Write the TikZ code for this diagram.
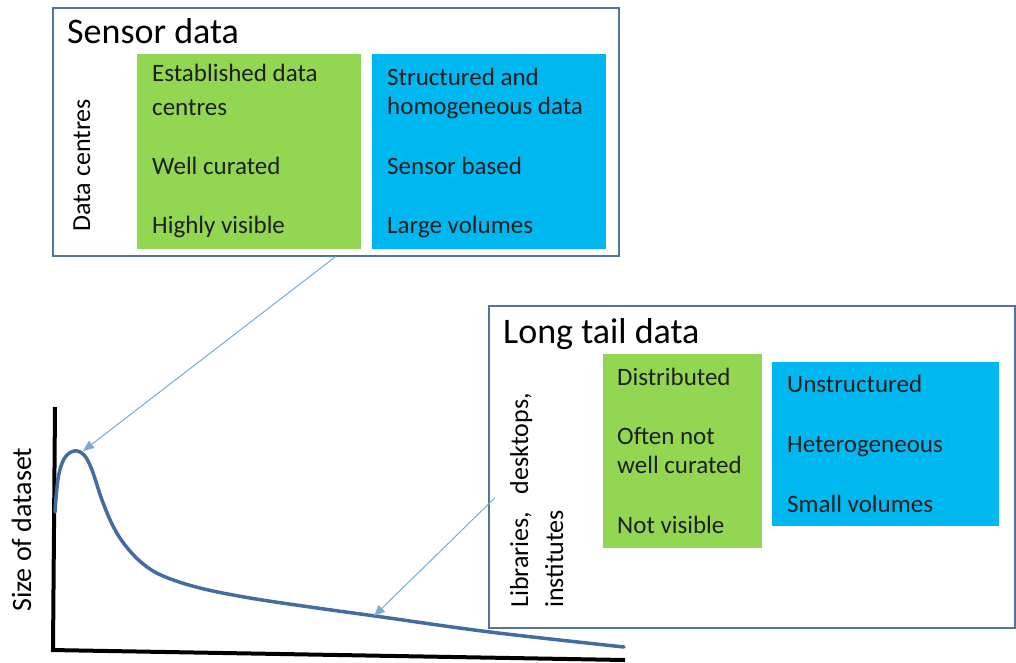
\documentclass[tikz,border=0pt]{standalone}
\usepackage{fontspec}
\setmainfont{Carlito}
\usetikzlibrary{arrows.meta}

\definecolor{frameblue}{RGB}{84,116,160}
\definecolor{cellgreen}{RGB}{146,214,82}
\definecolor{cellblue}{RGB}{0,184,240}
\definecolor{pointerblue}{RGB}{120,170,220}
\definecolor{curveblue}{RGB}{68,108,158}

\tikzset{
  framebox/.style={draw=frameblue, line width=1.5pt, anchor=north west, inner sep=0pt},
  cell/.style={anchor=north west, inner sep=0pt},
  title/.style={anchor=base west, inner sep=0pt, font=\fontsize{36}{43}\selectfont},
  item/.style={anchor=base west, inner sep=0pt, text=black!88, font=\fontsize{25}{30}\selectfont},
  rotlabel/.style={rotate=90, anchor=base west, inner sep=0pt, font=\fontsize{26}{31}\selectfont},
  pointer/.style={draw=pointerblue, line width=1pt, -{Triangle[length=11pt,width=9pt]}},
  axis/.style={line width=4pt, black},
  curve/.style={line width=3.5pt, curveblue, line cap=round},
}

\begin{document}
\begin{tikzpicture}[x=1pt, y=-1pt]
	\useasboundingbox (0,0) rectangle (1016,662);

	% Sensor data panel
	\node[framebox, minimum width=566pt, minimum height=248pt] (sensor) at (52,7) {};
	\node[cell, fill=cellgreen, minimum width=224pt, minimum height=195pt] (sgreen) at (137,54) {};
	\node[cell, fill=cellblue, minimum width=234pt, minimum height=195pt] (sblue) at (372,54) {};
	\node[title] (stitle) at (67,43) {Sensor data};
	\node[rotlabel] (scentre) at (90,232) {Data centres};

	\node[item] (sg1) at (152,81) {Established data};
	\node[item] (sg2) at (152,115) {centres};
	\node[item] (sg3) at (152,174) {Well curated};
	\node[item] (sg4) at (152,233) {Highly visible};

	\node[item] (sb1) at (387,85) {Structured and};
	\node[item] (sb2) at (387,114) {homogeneous data};
	\node[item] (sb3) at (387,174) {Sensor based};
	\node[item] (sb4) at (387,233) {Large volumes};

	% Long tail panel
	\node[framebox, minimum width=526pt, minimum height=322pt] (longtail) at (488,305) {};
	\node[cell, fill=cellgreen, minimum width=159pt, minimum height=194pt] (lgreen) at (603,354) {};
	\node[cell, fill=cellblue, minimum width=227pt, minimum height=164pt] (lblue) at (772,362) {};
	\node[title] (ltitle) at (503,343) {Long tail data};
	\node[rotlabel] (lplace1) at (528,608) {Libraries,\hspace{0.45em} desktops,};
	\node[rotlabel] (lplace2) at (563,608) {institutes};

	\node[item] (lg1) at (617,385) {Distributed};
	\node[item] (lg2) at (617,444) {Often not};
	\node[item] (lg3) at (617,473) {well curated};
	\node[item] (lg4) at (617,533) {Not visible};

	\node[item] (lb1) at (787,392) {Unstructured};
	\node[item] (lb2) at (787,452) {Heterogeneous};
	\node[item] (lb3) at (787,512) {Small volumes};

	% Axes
	\coordinate (origin) at (53,650);
	\coordinate (ytop) at (55,407);
	\coordinate (xend) at (625,660);
	\draw[axis] (ytop) -- (origin);
	\draw[axis] ([xshift=-2pt]origin) -- (xend);
	\node[rotlabel, font=\fontsize{28}{33}\selectfont] (ylabel) at (31,612) {Size of dataset};

	% Long tail curve
	\draw[curve] plot[smooth, tension=0.6] coordinates {
		(55,512) (58,479) (64,459) (74,451) (84,455) (92,470)
		(102,500) (113,526) (125,545) (142,563) (163,576)
		(200,588) (250,598) (310,607) (375,616) (490,632) (624,647)};

	% Pointers
	\coordinate (peak) at (83,451);
	\coordinate (tail) at (374,616);
	\draw[pointer] (sensor.south) -- (peak);
	\draw[pointer] ([shift={(7,31)}]longtail.west) -- (tail);
\end{tikzpicture}
\end{document}
